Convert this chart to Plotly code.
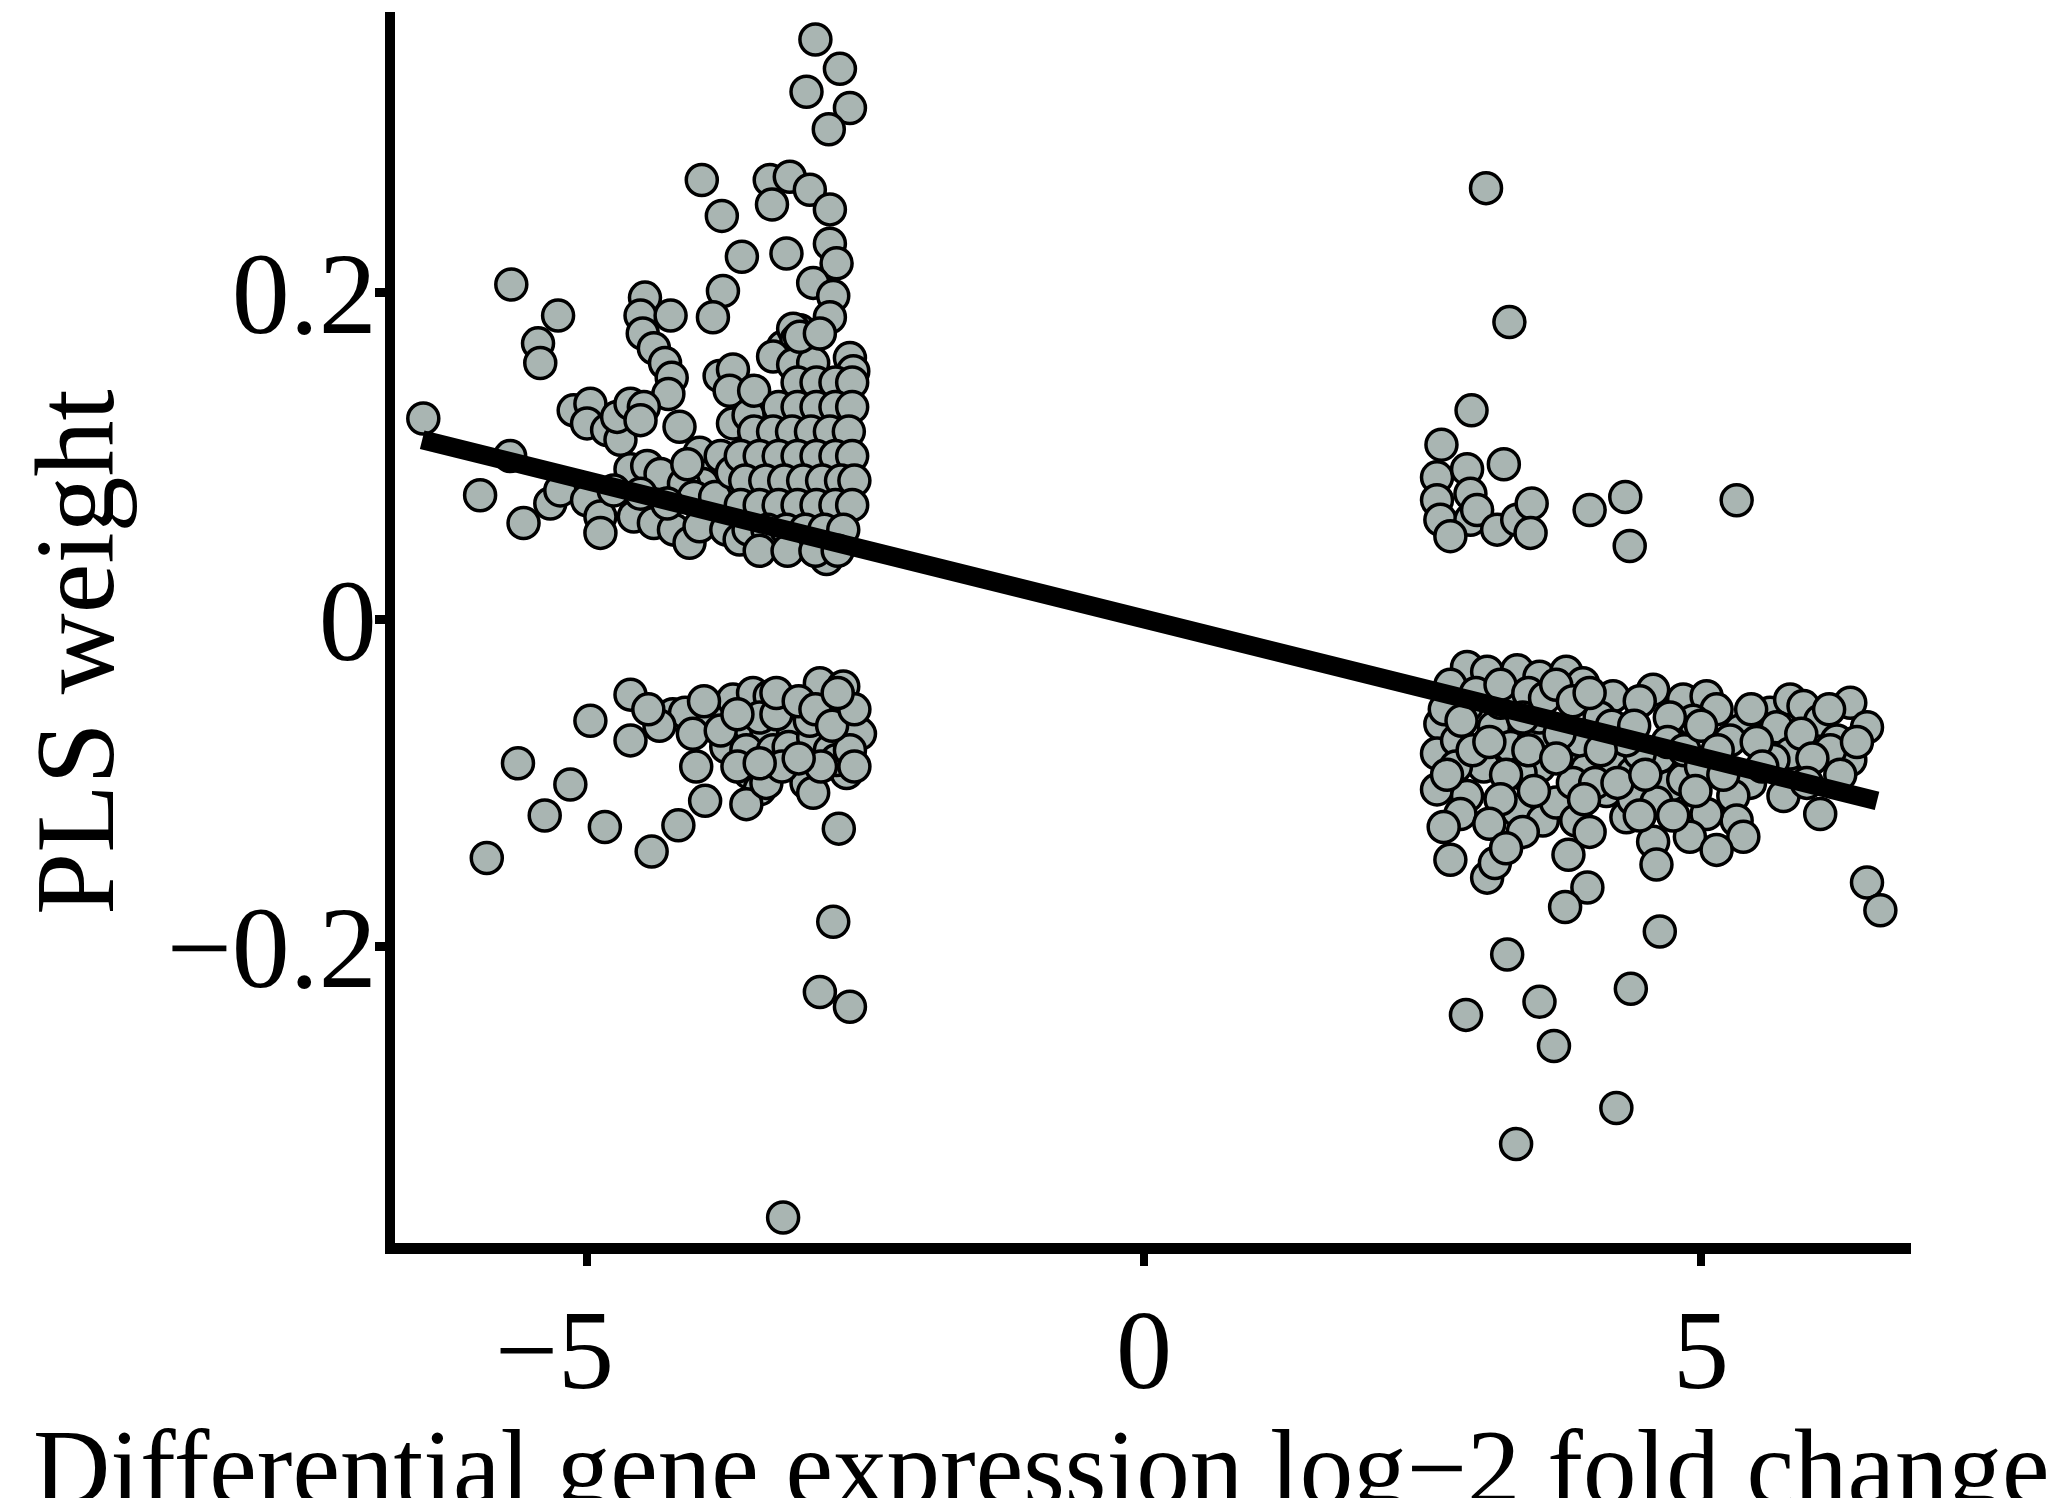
import plotly.graph_objects as go

# ---- data ----
left_upper_x = [
    -2.95, -2.73, -3.03, -2.64, -2.83,
    -3.97, -3.79, -3.61, -3.21, -3.78, -3.87,
    -3.36, -3.18, -3.00, -2.82, -3.34,
    -2.82, -2.76, -2.97, -2.79, -2.82, -3.09, -3.24, -3.15, -3.12,
    -3.33, -3.15, -2.97, -2.64, -2.61, -3.09, -2.91,
    -5.68, -5.26, -5.44, -5.42, -6.47, -5.96, -5.57, -5.69, -5.33, -5.24,
    -4.48, -4.52, -4.50, -4.40, -4.30, -4.24, -4.27, -4.25,
    -5.12, -4.97, -5.00, -4.82, -4.70, -4.73, -4.61, -4.49, -4.52,
    -3.81, -3.69, -3.72, -4.17, -3.69, -3.99, -3.87, -3.96,
    -5.00, -4.88, -4.88, -4.61, -4.46, -4.34, -4.58, -4.40, -4.22, -4.08,
    -3.99, -4.13, -4.04, -3.75, -3.63, -3.33, -3.15, -2.85, -3.00, -4.76,
    -4.52, -4.28,
    -3.85, -3.80, -4.10, -3.70, -3.55, -3.50,
    -3.11, -2.94, -2.77, -2.62,
    -3.28, -3.11, -2.94, -2.77, -2.62,
    -3.50, -3.33, -3.16, -2.99, -2.82, -2.65,
    -3.62, -3.45, -3.28, -3.11, -2.94, -2.77, -2.62,
    -3.58, -3.40, -3.23, -3.06, -2.89, -2.72, -2.60,
    -3.62, -3.45, -3.28, -3.11, -2.94, -2.77, -2.62,
    -3.55, -3.38, -3.21, -3.04, -2.87, -2.70,
    -3.45, -3.20, -2.95, -2.75,
]
left_upper_y = [
    0.355, 0.337, 0.323, 0.313, 0.300,
    0.269, 0.247, 0.222, 0.224, 0.201, 0.185,
    0.269, 0.271, 0.263, 0.251, 0.254,
    0.230, 0.218, 0.206, 0.198, 0.185, 0.177, 0.167, 0.178, 0.171,
    0.161, 0.156, 0.157, 0.160, 0.152, 0.173, 0.175,
    0.205, 0.186, 0.169, 0.157, 0.123, 0.076, 0.059, 0.100, 0.071, 0.079,
    0.197, 0.186, 0.175, 0.166, 0.157, 0.148, 0.138, 0.186,
    0.128, 0.132, 0.120, 0.116, 0.110, 0.124, 0.132, 0.130, 0.122,
    0.149, 0.153, 0.140, 0.118, 0.120, 0.102, 0.089, 0.083,
    0.073, 0.063, 0.053, 0.092, 0.094, 0.089, 0.063, 0.059, 0.055, 0.047,
    0.057, 0.083, 0.075, 0.055, 0.049, 0.047, 0.045, 0.037, 0.045, 0.079,
    0.077, 0.071,
    0.075, 0.100, 0.095, 0.090, 0.125, 0.140,
    0.145, 0.145, 0.145, 0.145,
    0.130, 0.130, 0.130, 0.130, 0.130,
    0.115, 0.115, 0.115, 0.115, 0.115, 0.115,
    0.100, 0.100, 0.100, 0.100, 0.100, 0.100, 0.100,
    0.085, 0.085, 0.085, 0.085, 0.085, 0.085, 0.085,
    0.070, 0.070, 0.070, 0.070, 0.070, 0.070, 0.070,
    0.055, 0.055, 0.055, 0.055, 0.055, 0.055,
    0.042, 0.042, 0.042, 0.042,
]

left_lower_x = [
    -4.61, -4.97, -4.61, -4.23, -4.12, -5.15, -4.84, -4.42, -4.18, -3.94, -4.02,
    -3.87, -3.69, -3.51, -3.36, -3.57, -3.39, -3.21, -3.15, -3.75, -3.57, -3.33,
    -3.19, -2.91, -2.70, -2.85, -2.70, -2.55, -2.97, -2.82, -2.67, -2.76, -2.64,
    -3.45, -3.30, -3.00,
    -3.54, -3.45, -3.57, -3.39, -3.03, -2.97, -2.74,
    -5.90, -5.62, -5.38, -2.79, -2.91, -2.64, -3.24,
    -4.35, -4.45, -4.05, -3.95, -3.80, -3.65, -3.30, -3.10, -2.95, -2.80,
    -2.60, -2.60, -3.65, -3.25, -2.90, -3.10, -2.75, -3.45,
]
left_lower_y = [
    -0.046, -0.062, -0.074, -0.058, -0.057, -0.101, -0.127, -0.142, -0.126, -0.111, -0.090,
    -0.060, -0.049, -0.045, -0.047, -0.066, -0.068, -0.060, -0.070, -0.078, -0.080, -0.080,
    -0.078, -0.039, -0.041, -0.055, -0.068, -0.070, -0.072, -0.080, -0.094, -0.086, -0.080,
    -0.060, -0.058, -0.062,
    -0.094, -0.104, -0.113, -0.100, -0.100, -0.106, -0.128,
    -0.146, -0.088, -0.120, -0.185, -0.228, -0.237, -0.366,
    -0.065, -0.055, -0.070, -0.050, -0.068, -0.058, -0.045, -0.050, -0.055, -0.065,
    -0.055, -0.090, -0.090, -0.090, -0.090, -0.085, -0.045, -0.088,
]

right_upper_x = [
    2.94, 2.67, 3.23, 2.63, 2.90, 2.63, 2.93, 2.66, 2.93, 2.75, 2.99,
    3.17, 3.35, 3.48, 3.47, 4.00, 4.32, 4.36, 5.32, 3.07, 3.28,
]
right_upper_y = [
    0.128, 0.107, 0.095, 0.087, 0.092, 0.073, 0.077, 0.061, 0.061, 0.051, 0.067,
    0.055, 0.061, 0.071, 0.053, 0.067, 0.075, 0.045, 0.073, 0.264, 0.182,
]

right_lower_x = [
    2.90, 3.08, 3.35, 3.55, 3.79, 3.94, 4.21, 4.57,
    2.66, 2.63, 2.81, 3.14, 3.29, 3.50, 3.55, 3.79, 3.97, 3.91, 4.09, 4.24, 4.39, 4.63, 4.45,
    2.90, 3.20, 3.55, 3.73, 3.05, 3.38, 4.33, 4.15,
    2.63, 2.90, 2.84, 2.69, 2.75, 3.08, 3.15,
    3.35, 3.58, 3.70, 3.88, 3.81, 3.98, 3.78,
    4.33, 4.39, 4.57, 4.60,
    4.84, 5.05, 5.14, 5.35, 5.26, 4.93, 4.72,
    5.62, 5.80, 5.92, 5.68,
    6.07, 6.34, 6.49, 6.22, 6.34, 6.16,
    5.80, 5.65, 5.74, 6.07,
    5.44, 5.29, 5.32, 5.38, 5.05, 4.90, 5.14,
    4.72, 4.60, 4.84,
    6.49, 6.61,
    4.63, 3.26, 2.89, 3.55, 3.68, 4.37, 4.24, 3.34,
    2.75, 2.70, 2.80, 2.72, 2.95, 2.85, 2.98,
    3.20, 3.45, 3.10, 3.25, 3.40, 3.45, 3.60, 3.20, 3.50, 3.10, 3.40, 3.25,
    3.70, 3.85, 4.00, 4.10, 3.85, 4.05, 3.70, 4.20, 3.95, 4.00, 4.25, 4.45, 4.40, 4.50, 4.45,
    4.70, 4.85, 5.00, 5.00, 4.75, 4.95, 5.15, 5.20,
    5.45, 5.50, 5.55, 5.90, 6.00, 6.15, 6.40, 5.95, 6.25,
]
right_lower_y = [
    -0.029, -0.032, -0.031, -0.035, -0.032, -0.039, -0.047, -0.043,
    -0.064, -0.082, -0.074, -0.066, -0.078, -0.074, -0.090, -0.084, -0.092, -0.074, -0.060, -0.090, -0.094, -0.084, -0.082,
    -0.053, -0.051, -0.060, -0.070, -0.090, -0.094, -0.074, -0.105,
    -0.104, -0.108, -0.119, -0.127, -0.147, -0.158, -0.149,
    -0.117, -0.123, -0.112, -0.123, -0.144, -0.164, -0.176,
    -0.121, -0.110, -0.136, -0.150,
    -0.049, -0.047, -0.055, -0.068, -0.074, -0.062, -0.060,
    -0.057, -0.049, -0.053, -0.066,
    -0.062, -0.051, -0.066, -0.074, -0.086, -0.080,
    -0.082, -0.086, -0.108, -0.119,
    -0.100, -0.108, -0.123, -0.133, -0.119, -0.133, -0.141,
    -0.102, -0.112, -0.098,
    -0.161, -0.178,
    -0.191, -0.205, -0.242, -0.234, -0.261, -0.226, -0.299, -0.321,
    -0.040, -0.055, -0.090, -0.095, -0.080, -0.062, -0.045,
    -0.040, -0.045, -0.075, -0.095, -0.060, -0.080, -0.048, -0.110, -0.105, -0.125, -0.130, -0.140,
    -0.040, -0.050, -0.045, -0.080, -0.100, -0.100, -0.085, -0.065, -0.110, -0.130, -0.100, -0.050, -0.065, -0.095, -0.120,
    -0.075, -0.080, -0.065, -0.090, -0.120, -0.105, -0.080, -0.095,
    -0.055, -0.075, -0.090, -0.070, -0.085, -0.055, -0.075, -0.100, -0.095,
]

fit_x = [-6.48, 6.58]
fit_y = [0.110, -0.111]

x_ticks = [-5, 0, 5]
x_tick_text = ["\u22125\u2007\u200a", "0", "5"]
y_ticks = [-0.2, 0, 0.2]
y_tick_text = ["\u22120.2", "0", "0.2"]

# ---- figure ----
FONT = "Liberation Serif, Times New Roman, serif"
all_x = left_upper_x + left_lower_x + right_upper_x + right_lower_x
all_y = left_upper_y + left_lower_y + right_upper_y + right_lower_y

fig = go.Figure()
fig.add_trace(go.Scatter(
    x=all_x, y=all_y, mode="markers", cliponaxis=False,
    marker=dict(size=31, color="#A9B5B2", line=dict(color="black", width=3.5)),
    showlegend=False, hoverinfo="skip",
))
fig.add_trace(go.Scatter(
    x=fit_x, y=fit_y, mode="lines", cliponaxis=False,
    line=dict(color="black", width=19),
    showlegend=False, hoverinfo="skip",
))

W, H = 2067, 1498
ml, mr, mt, mb = 395, 156, 12, 255
fig.update_layout(
    width=W, height=H,
    margin=dict(l=ml, r=mr, t=mt, b=mb, pad=0),
    paper_bgcolor="white", plot_bgcolor="white",
    font=dict(family=FONT, color="black"),
)
fig.update_xaxes(
    range=[-6.724, 6.885], tickvals=x_ticks, ticktext=x_tick_text,
    showgrid=False, zeroline=False,
    showline=True, linewidth=11, linecolor="black",
    ticks="outside", ticklen=12, tickwidth=8, tickcolor="black",
    tickfont=dict(family=FONT, size=112, color="black"),
    ticklabelstandoff=-12,
)
fig.update_yaxes(
    range=[-0.3816, 0.3718], tickvals=y_ticks, ticktext=y_tick_text,
    showgrid=False, zeroline=False,
    showline=True, linewidth=10, linecolor="black",
    ticks="outside", ticklen=10, tickwidth=9, tickcolor="black",
    tickfont=dict(family=FONT, size=116, color="black"),
    ticklabelstandoff=-25,
)
fig.add_annotation(
    text="Differential gene expression log\u22122 fold change",
    xref="paper", yref="paper", x=(1041 - ml) / (W - ml - mr), y=-0.183,
    xanchor="center", yanchor="middle", showarrow=False,
    font=dict(family=FONT, size=107, color="black"),
)
fig.add_annotation(
    text="PLS weight", textangle=-90,
    xref="paper", yref="paper", x=(75 - ml) / (W - ml - mr), y=0.48,
    xanchor="center", yanchor="middle", showarrow=False,
    font=dict(family=FONT, size=112, color="black"),
)
fig.write_html("out.html")
